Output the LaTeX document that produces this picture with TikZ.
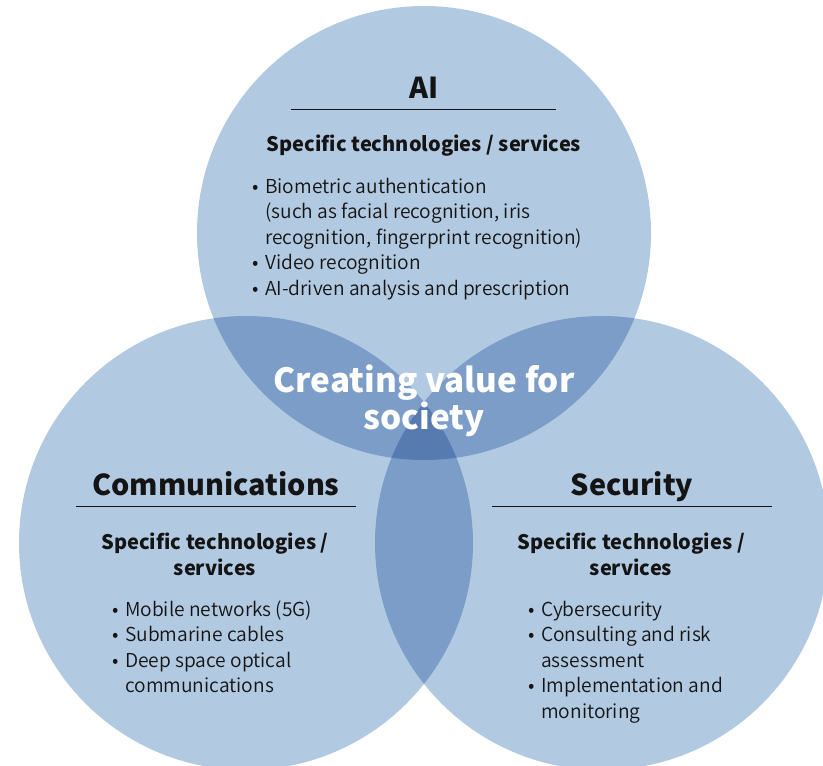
\documentclass[tikz,border=0pt]{standalone}
\usepackage{fontspec}
\setmainfont{Noto Sans CJK JP}
\IfFontExistsTF{Noto Sans CJK JP DemiLight}
  {\newfontfamily\bodyfont{Noto Sans CJK JP DemiLight}}
  {\newfontfamily\bodyfont{Noto Sans CJK JP}}
\definecolor{cS}{RGB}{178,201,226}
\definecolor{cSS}{RGB}{124,157,199}
\definecolor{cSSS}{RGB}{87,123,176}
\definecolor{ink}{RGB}{20,20,20}
\tikzset{
  title/.style={anchor=base,inner sep=0pt,font=\fontsize{28.8}{34}\selectfont\bfseries,text=ink},
  headtxt/.style={anchor=base,inner sep=0pt,font=\fontsize{20}{26}\selectfont\bfseries,text=ink},
  itemtxt/.style={anchor=base west,inner sep=0pt,font=\bodyfont\fontsize{19.2}{26}\selectfont,text=ink},
  bul/.style={anchor=base,inner sep=0pt,font=\bodyfont\fontsize{19.2}{26}\selectfont,text=ink},
  centretxt/.style={anchor=base,inner sep=0pt,font=\fontsize{33.3}{40}\selectfont\bfseries,text=white},
  rule/.style={draw=ink,line width=1pt}
}
\begin{document}
\begin{tikzpicture}[x=1pt,y=-1pt]
\useasboundingbox (0,0) rectangle (823,766);
\begin{scope}
\clip (0,0) rectangle (823,766);
% single circles
\fill[cS] (424,233) circle[radius=227pt];
\fill[cS] (246,543) circle[radius=227pt];
\fill[cS] (602,543) circle[radius=227pt];
% pairwise overlaps
\begin{scope}
\clip (424,233) circle[radius=227pt];
\fill[cSS] (246,543) circle[radius=227pt];
\fill[cSS] (602,543) circle[radius=227pt];
\end{scope}
\begin{scope}
\clip (246,543) circle[radius=227pt];
\fill[cSS] (602,543) circle[radius=227pt];
\end{scope}
% triple overlap
\begin{scope}
\clip (424,233) circle[radius=227pt];
\clip (246,543) circle[radius=227pt];
\fill[cSSS] (602,543) circle[radius=227pt];
\end{scope}
\end{scope}

% AI
\node[title] (aiT) at (424,98) {AI};
\draw[rule] (291,109) -- (556,109);
\node[headtxt] (aiH) at (424,151) {Specific technologies / services};
\node[bul] (aib1) at (256,193) {•};
\node[itemtxt] (ai1) at (265,193) {Biometric authentication};
\node[itemtxt] (ai1b) at (265,218.5) {(such as facial recognition, iris};
\node[itemtxt] (ai1c) at (265,244) {recognition, fingerprint recognition)};
\node[bul] (aib2) at (256,269.5) {•};
\node[itemtxt] (ai2) at (265,269.5) {Video recognition};
\node[bul] (aib3) at (256,295) {•};
\node[itemtxt] (ai3) at (265,295) {AI-driven analysis and prescription};

% centre
\node[centretxt] (c1) at (424,392) {Creating value for};
\node[centretxt] (c2) at (424,429) {society};

% Communications
\node[title] (coT) at (216,495) {Communications};
\draw[rule] (76,506) -- (356,506);
\node[headtxt] (coH1) at (215,549) {Specific technologies /};
\node[headtxt] (coH2) at (215,575) {services};
\node[bul] (cob1) at (116,616) {•};
\node[itemtxt] (co1) at (125,616) {Mobile networks (5G)};
\node[bul] (cob2) at (116,641.5) {•};
\node[itemtxt] (co2) at (125,641.5) {Submarine cables};
\node[bul] (cob3) at (116,667) {•};
\node[itemtxt] (co3) at (125,667) {Deep space optical};
\node[itemtxt] (co3b) at (125,692.5) {communications};

% Security
\node[title] (seT) at (632,495) {Security};
\draw[rule] (492,506) -- (772,506);
\node[headtxt] (seH1) at (631,549) {Specific technologies /};
\node[headtxt] (seH2) at (631,575) {services};
\node[bul] (seb1) at (532,616) {•};
\node[itemtxt] (se1) at (541,616) {Cybersecurity};
\node[bul] (seb2) at (532,641.5) {•};
\node[itemtxt] (se2) at (541,641.5) {Consulting and risk};
\node[itemtxt] (se2b) at (541,667) {assessment};
\node[bul] (seb3) at (532,692.5) {•};
\node[itemtxt] (se3) at (541,692.5) {Implementation and};
\node[itemtxt] (se3b) at (541,718) {monitoring};
\end{tikzpicture}
\end{document}
